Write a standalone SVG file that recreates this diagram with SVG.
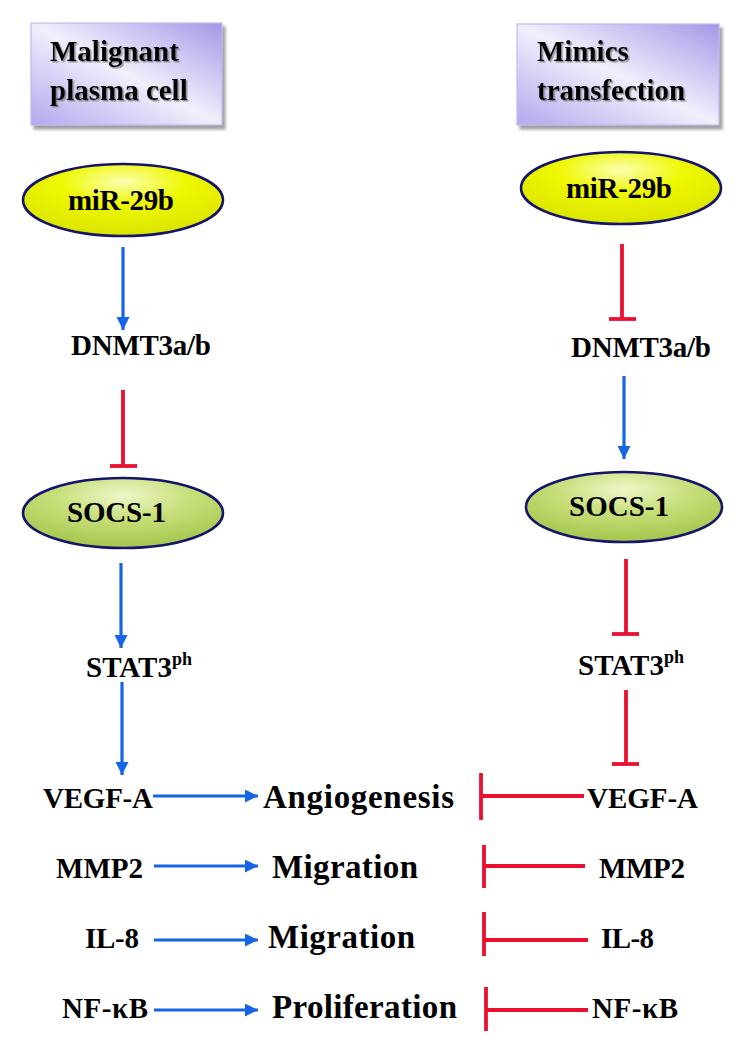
<svg xmlns="http://www.w3.org/2000/svg" width="748" height="1060" viewBox="0 0 748 1060">
<style>
.blue{stroke:#1565e6;stroke-width:3.2;fill:none}
.red{stroke:#ea1030;stroke-width:3.8;fill:none}
.box{fill:url(#bg);stroke:#c2baf0;stroke-width:1.2;filter:url(#sh)}
.ell{stroke:#14146a;stroke-width:2.6}
</style>
<defs>
<linearGradient id="bg" x1="1" y1="0" x2="0" y2="1">
<stop offset="0" stop-color="#a597e8"/>
<stop offset="0.5" stop-color="#f1effc"/>
<stop offset="1" stop-color="#b3a8ee"/>
</linearGradient>
<radialGradient id="yg" cx="0.5" cy="0.25" r="0.7">
<stop offset="0" stop-color="#fbffb0"/>
<stop offset="0.45" stop-color="#eef800"/>
<stop offset="1" stop-color="#dde600"/>
</radialGradient>
<radialGradient id="gg" cx="0.5" cy="0.25" r="0.7">
<stop offset="0" stop-color="#eef7c8"/>
<stop offset="0.5" stop-color="#c6de78"/>
<stop offset="1" stop-color="#a9c852"/>
</radialGradient>
<filter id="sh" x="-10%" y="-10%" width="130%" height="130%">
<feDropShadow dx="3" dy="4" stdDeviation="1.5" flood-color="#808080" flood-opacity="0.75"/>
</filter>
<filter id="ts" x="-10%" y="-20%" width="130%" height="150%">
<feDropShadow dx="1.5" dy="1.5" stdDeviation="0.6" flood-color="#777" flood-opacity="0.8"/>
</filter>
<marker id="ab" viewBox="0 0 10 10" refX="10" refY="5" markerWidth="13" markerHeight="13" markerUnits="userSpaceOnUse" orient="auto">
<path d="M0,0 L10,5 L0,10 Z" fill="#1565e6"/>
</marker>
</defs>

<g id="box-left">
<rect class="box" x="31" y="23" width="191" height="102"/>
<text font-family="Liberation Serif" font-weight="bold" font-size="29" filter="url(#ts)" x="50" y="61">Malignant</text>
<text font-family="Liberation Serif" font-weight="bold" font-size="29" filter="url(#ts)" x="50" y="100">plasma cell</text>
</g>
<g id="box-right">
<rect class="box" x="517" y="24" width="202" height="101"/>
<text font-family="Liberation Serif" font-weight="bold" font-size="29" filter="url(#ts)" x="537" y="61">Mimics</text>
<text font-family="Liberation Serif" font-weight="bold" font-size="29" filter="url(#ts)" x="537" y="100">transfection</text>
</g>

<g id="mir-left">
<ellipse class="ell" cx="123" cy="200" rx="100" ry="36" fill="url(#yg)"/>
<text font-family="Liberation Serif" font-weight="bold" font-size="29" x="68" y="210" textLength="106">miR-29b</text>
</g>
<g id="mir-right">
<ellipse class="ell" cx="621" cy="188" rx="100" ry="36" fill="url(#yg)"/>
<text font-family="Liberation Serif" font-weight="bold" font-size="29" x="566" y="198" textLength="106">miR-29b</text>
</g>

<g id="dnmt-left"><text font-family="Liberation Serif" font-weight="bold" font-size="29" x="71" y="355" textLength="140">DNMT3a/b</text></g>
<g id="dnmt-right"><text font-family="Liberation Serif" font-weight="bold" font-size="29" x="571" y="357" textLength="140">DNMT3a/b</text></g>

<g id="socs-left">
<ellipse class="ell" cx="123" cy="513" rx="100" ry="35" fill="url(#gg)"/>
<text font-family="Liberation Serif" font-weight="bold" font-size="29" x="67" y="522" textLength="99">SOCS-1</text>
</g>
<g id="socs-right">
<ellipse class="ell" cx="624" cy="507" rx="98" ry="35" fill="url(#gg)"/>
<text font-family="Liberation Serif" font-weight="bold" font-size="29" x="569" y="516" textLength="100">SOCS-1</text>
</g>

<g id="stat3-left"><text font-family="Liberation Serif" font-weight="bold" font-size="29" x="86" y="677">STAT3<tspan font-size="18" dy="-12">ph</tspan></text></g>
<g id="stat3-right"><text font-family="Liberation Serif" font-weight="bold" font-size="29" x="578" y="675">STAT3<tspan font-size="18" dy="-12">ph</tspan></text></g>

<g id="vegf-left"><text font-family="Liberation Serif" font-weight="bold" font-size="29" x="43" y="808" textLength="110">VEGF-A</text></g>
<g id="angio"><text font-family="Liberation Serif" font-weight="bold" font-size="33" x="263" y="808" textLength="191">Angiogenesis</text></g>
<g id="vegf-right"><text font-family="Liberation Serif" font-weight="bold" font-size="29" x="587" y="808" textLength="111">VEGF-A</text></g>

<g id="mmp2-left"><text font-family="Liberation Serif" font-weight="bold" font-size="29" x="56" y="878" textLength="87">MMP2</text></g>
<g id="migration-1"><text font-family="Liberation Serif" font-weight="bold" font-size="33" x="272" y="878" textLength="146">Migration</text></g>
<g id="mmp2-right"><text font-family="Liberation Serif" font-weight="bold" font-size="29" x="599" y="878" textLength="86">MMP2</text></g>

<g id="il8-left"><text font-family="Liberation Serif" font-weight="bold" font-size="29" x="85" y="948" textLength="54">IL-8</text></g>
<g id="migration-2"><text font-family="Liberation Serif" font-weight="bold" font-size="33" x="268" y="948" textLength="147">Migration</text></g>
<g id="il8-right"><text font-family="Liberation Serif" font-weight="bold" font-size="29" x="601" y="948" textLength="53">IL-8</text></g>

<g id="nfkb-left"><text font-family="Liberation Serif" font-weight="bold" font-size="29" x="62" y="1018" textLength="86">NF-κB</text></g>
<g id="prolif"><text font-family="Liberation Serif" font-weight="bold" font-size="33" x="272" y="1018" textLength="185">Proliferation</text></g>
<g id="nfkb-right"><text font-family="Liberation Serif" font-weight="bold" font-size="29" x="592" y="1018" textLength="86">NF-κB</text></g>

<g id="connectors">
<line class="blue" x1="123" y1="247" x2="123" y2="330" marker-end="url(#ab)"/>
<line class="red" x1="123" y1="390" x2="123" y2="466"/>
<line class="red" x1="110" y1="466" x2="137" y2="466"/>
<line class="blue" x1="121" y1="563" x2="121" y2="648" marker-end="url(#ab)"/>
<line class="blue" x1="122" y1="682" x2="122" y2="775" marker-end="url(#ab)"/>
<line class="red" x1="622" y1="244" x2="622" y2="319"/>
<line class="red" x1="609" y1="319" x2="636" y2="319"/>
<line class="blue" x1="624" y1="376" x2="624" y2="459" marker-end="url(#ab)"/>
<line class="red" x1="626" y1="559" x2="626" y2="634"/>
<line class="red" x1="612" y1="634" x2="639" y2="634"/>
<line class="red" x1="626" y1="690" x2="626" y2="764"/>
<line class="red" x1="612" y1="764" x2="639" y2="764"/>
<line class="blue" x1="153" y1="796" x2="258" y2="796" marker-end="url(#ab)"/>
<line class="red" x1="481" y1="796" x2="584" y2="796"/>
<line class="red" x1="481" y1="773" x2="481" y2="820"/>
<line class="blue" x1="154" y1="866" x2="258" y2="866" marker-end="url(#ab)"/>
<line class="red" x1="484" y1="866" x2="585" y2="866"/>
<line class="red" x1="484" y1="845" x2="484" y2="888"/>
<line class="blue" x1="154" y1="940" x2="258" y2="940" marker-end="url(#ab)"/>
<line class="red" x1="484" y1="940" x2="588" y2="940"/>
<line class="red" x1="484" y1="912" x2="484" y2="956"/>
<line class="blue" x1="154" y1="1010" x2="258" y2="1010" marker-end="url(#ab)"/>
<line class="red" x1="486" y1="1010" x2="588" y2="1010"/>
<line class="red" x1="486" y1="987" x2="486" y2="1031"/>
</g>
</svg>
